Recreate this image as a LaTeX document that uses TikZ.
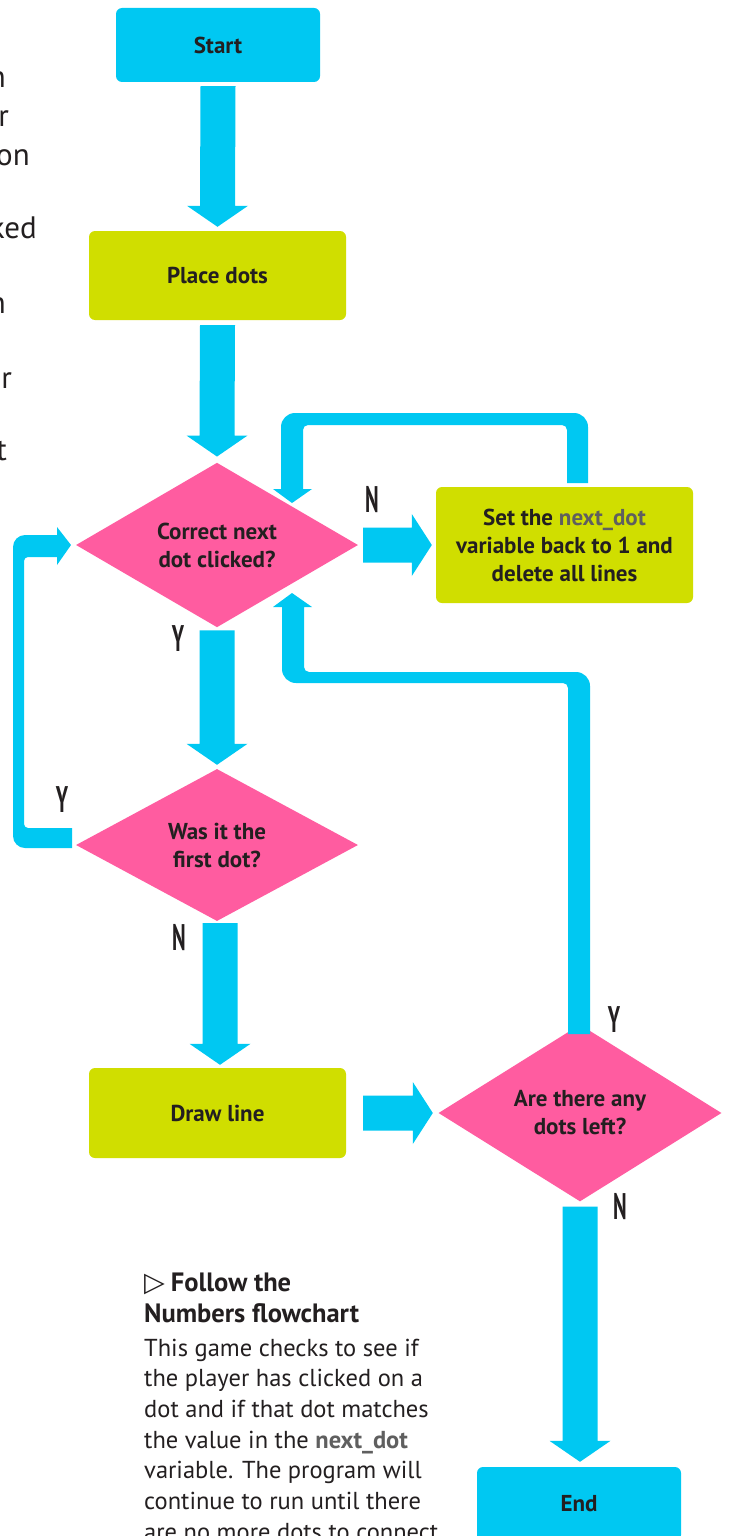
\documentclass[tikz,border=0pt]{standalone}
\usepackage{fontspec}
\setmainfont{PT Sans}
\newfontfamily\symf{DejaVu Sans}
\usepackage{graphicx}
\usetikzlibrary{shapes.geometric,calc}
\definecolor{fcyan}{RGB}{0,200,242}
\definecolor{fgreen}{RGB}{208,222,0}
\definecolor{fpink}{RGB}{255,92,160}
\definecolor{ftext}{RGB}{35,31,32}
\definecolor{fgray}{RGB}{95,95,95}
\tikzset{
  boxtxt/.style={font=\fontsize{23}{28}\selectfont\bfseries, text=ftext, align=center},
  term/.style={rectangle, rounded corners=6pt, fill=fcyan, minimum width=204pt, minimum height=74pt, inner sep=0pt, boxtxt},
  proc/.style={rectangle, rounded corners=6pt, fill=fgreen, minimum width=257pt, inner sep=0pt, boxtxt},
  dec/.style={diamond, fill=fpink, minimum width=282pt, minimum height=152pt, inner sep=0pt, boxtxt},
  yn/.style={font=\fontsize{37}{37}\selectfont\bfseries, text=ftext, inner sep=0pt},
  frag/.style={font=\fontsize{31}{31}\selectfont, text=ftext, inner sep=0pt, anchor=base east},
  arr/.style={fill=fcyan},
}
\newcommand\blkdown[2]{\fill[arr] ($(#1)+(-17.5,0)$) -- ($(#1)+(17.5,0)$) -- ($(#2)+(17.5,-21)$) -- ($(#2)+(30.5,-21)$) -- (#2) -- ($(#2)+(-30.5,-21)$) -- ($(#2)+(-17.5,-21)$) -- cycle;}
\newcommand\blkright[2]{\fill[arr] ($(#1)+(0,-17.5)$) -- ($(#2)+(-20,-17.5)$) -- ($(#2)+(-20,-31)$) -- (#2) -- ($(#2)+(-20,31)$) -- ($(#2)+(-20,17.5)$) -- ($(#1)+(0,17.5)$) -- cycle;}
\newcommand\cond[1]{\scalebox{0.56}[1]{#1}}
\begin{document}
\begin{tikzpicture}[x=1pt,y=-1pt]
\path[use as bounding box, fill=white] (0,0) rectangle (728,1536);
\clip (0,0) rectangle (728,1536);

% cut-off text of the neighbouring column
\node[frag] (f1) at (6,88) {n};
\node[frag] (f2) at (9,127) {r};
\node[frag] (f3) at (30,165) {on};
\node[frag] (f4) at (37,238) {ked};
\node[frag] (f5) at (6,313) {n};
\node[frag] (f6) at (12,388) {or};
\node[frag] (f7) at (7,460) {t};

% nodes
\node[term] (start) at (218,45) {Start};
\node[proc, minimum height=89pt] (place) at (217.5,275.5) {Place dots};
\node[dec] (correct) at (217,545) {Correct next\\dot clicked?};
\node[proc, minimum height=116pt] (setbox) at (564.5,545) {Set the \textcolor{fgray}{next\_dot}\\variable back to 1 and\\delete all lines};
\node[dec] (wasit) at (217,845) {Was it the\\first dot?};
\node[proc, minimum height=90pt] (drawline) at (217.5,1113) {Draw line};
\node[dec, minimum width=283pt, minimum height=150pt] (arethere) at (580,1113) {Are there any\\dots left?};
\node[term] (endn) at (579,1504) {End};

% straight block arrows
\coordinate (a1s) at ($(start.south)+(0,4)$);
\coordinate (a1e) at ($(place.north)+(0,-4)$);
\blkdown{a1s}{a1e}
\coordinate (a2s) at ($(place.south)+(0,5)$);
\coordinate (a2e) at ($(correct.north)+(0,-6)$);
\blkdown{a2s}{a2e}
\coordinate (a3s) at ($(correct.south)+(0,3)$);
\coordinate (a3e) at ($(wasit.north)+(0,-4)$);
\blkdown{a3s}{a3e}
\coordinate (a4s) at ($(wasit.south)+(3,2)$);
\coordinate (a4e) at ($(drawline.north)+(2.5,-3)$);
\blkdown{a4s}{a4e}
\coordinate (a5s) at ($(drawline.east)+(17,0)$);
\coordinate (a5e) at ($(arethere.west)+(-5.5,0)$);
\blkright{a5s}{a5e}
\coordinate (a6s) at ($(correct.east)+(5,0)$);
\coordinate (a6e) at ($(setbox.west)+(-4,0)$);
\blkright{a6s}{a6e}
\coordinate (a7s) at ($(arethere.south)+(0,5)$);
\coordinate (a7e) at ($(endn.north)+(1,-5)$);
\blkdown{a7s}{a7e}

% loop: setbox -> correct
\fill[arr] (567,483) -- (567,430) arc[start angle=0,end angle=-90,radius=5]
  -- (308,425) arc[start angle=270,end angle=180,radius=5]
  -- (303,489) -- (312,489) -- (292,503) -- (273,489) -- (281,489)
  -- (281,427) arc[start angle=180,end angle=270,radius=14]
  -- (574,413) arc[start angle=270,end angle=360,radius=14]
  -- (588,483) -- cycle;
% loop: arethere -> correct
\fill[arr] (568,1034) -- (568,688) arc[start angle=0,end angle=-90,radius=5]
  -- (296,683) arc[start angle=90,end angle=180,radius=14]
  -- (282,607) -- (273,607) -- (292,593) -- (312,607) -- (304,607)
  -- (304,667) arc[start angle=180,end angle=90,radius=5]
  -- (576,672) arc[start angle=270,end angle=360,radius=14]
  -- (590,1034) -- cycle;
% loop: wasit -> correct
\fill[arr] (72,828) -- (28,828) arc[start angle=90,end angle=180,radius=4]
  -- (24,561) arc[start angle=180,end angle=270,radius=4]
  -- (57,557) -- (57,565) -- (71,545) -- (57,527) -- (57,535)
  -- (25,535) arc[start angle=270,end angle=180,radius=12]
  -- (13,836) arc[start angle=180,end angle=90,radius=12]
  -- (72,848) -- cycle;

% Y / N labels
\node[yn] (lN1) at (372,500) {\cond{N}};
\node[yn] (lY1) at (178,639) {\cond{Y}};
\node[yn] (lY2) at (62,800) {\cond{Y}};
\node[yn] (lN2) at (179,938) {\cond{N}};
\node[yn] (lY3) at (614,1020) {\cond{Y}};
\node[yn] (lN3) at (620,1207) {\cond{N}};

% caption
\node[anchor=north west, inner sep=0pt, align=left, text=ftext, font=\fontsize{24.5}{30.7}\selectfont] (cap) at (144,1273)
 {{\symf\fontsize{27}{31}\selectfont ▷}\hspace{6pt}{\fontsize{26.5}{31}\selectfont\bfseries Follow the}\\
  {\fontsize{26.5}{31}\selectfont\bfseries Numbers flowchart}\\[3pt]
  This game checks to see if\\
  the player has clicked on a\\
  dot and if that dot matches\\
  the value in the \textbf{\textcolor{fgray}{next\_dot}}\\
  variable. The program will\\
  continue to run until there\\
  are no more dots to connect};
\end{tikzpicture}
\end{document}
